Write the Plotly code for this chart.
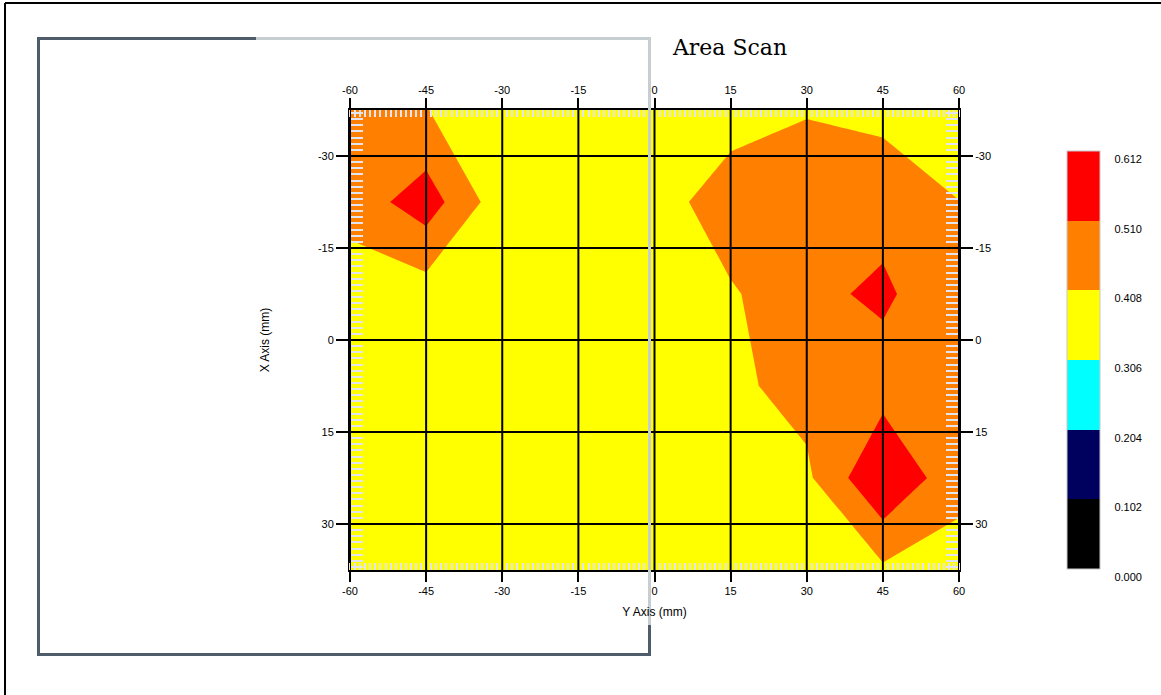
import plotly.graph_objects as go

# ---------------- data ----------------
y_axis_mm = [-60, -45, -30, -15, 0, 15, 30, 45, 60]          # horizontal axis ("Y Axis")
x_axis_mm = [-37.5, -22.5, -7.5, 7.5, 22.5, 37.5]            # vertical axis ("X Axis")
z_rows = [
    [0.470, 0.410, 0.360, 0.350, 0.350, 0.350, 0.398, 0.379, 0.360],
    [0.451, 0.563, 0.347, 0.350, 0.350, 0.478, 0.500, 0.476, 0.409],
    [0.347, 0.360, 0.340, 0.350, 0.350, 0.395, 0.487, 0.527, 0.436],
    [0.350, 0.350, 0.350, 0.350, 0.360, 0.389, 0.440, 0.467, 0.440],
    [0.350, 0.350, 0.350, 0.350, 0.350, 0.360, 0.390, 0.610, 0.438],
    [0.350, 0.350, 0.350, 0.350, 0.350, 0.350, 0.360, 0.390, 0.369],
]
level_start = 0.102
level_end = 0.510
level_size = 0.102
cbar_ticks = [0.000, 0.102, 0.204, 0.306, 0.408, 0.510, 0.612]
cbar_labels = ["0.000", "0.102", "0.204", "0.306", "0.408", "0.510", "0.612"]
band_colors = ["#000000", "#00005E", "#00FFFF", "#FFFF00", "#FF8000", "#FF0000"]
h_ticks = [-60, -45, -30, -15, 0, 15, 30, 45, 60]
h_labels = ["-60", "-45", "-30", "-15", "0", "15", "30", "45", "60"]
v_ticks = [-30, -15, 0, 15, 30]
v_labels = ["-30", "-15", "0", "15", "30"]
h_range = [-60, 60]
v_range = [37.5, -37.5]

# ---------------- layout geometry (pixels) ----------------
W, H = 1161, 695
PL, PR, PT, PB = 350, 959, 110, 570


def px(xp):
    return (xp - PL) / (PR - PL)


def py(yp):
    return (PB - yp) / (PB - PT)


n = len(band_colors)
# smooth scale for the contour bands (band centres land on the stops)
contour_scale = [[i / (n - 1), c] for i, c in enumerate(band_colors)]
# stepped scale for the legend bar
step_scale = []
for i, c in enumerate(band_colors):
    step_scale.append([i / n, c])
    step_scale.append([(i + 1) / n, c])

NBSP = "\u00a0"
cbar_text = [NBSP * 4 + t for t in cbar_labels]

fig = go.Figure()
# hidden heatmap that only provides the stepped colour bar
fig.add_trace(go.Heatmap(
    x=y_axis_mm, y=x_axis_mm, z=z_rows,
    zmin=cbar_ticks[0], zmax=cbar_ticks[-1], colorscale=step_scale,
    opacity=0, hoverinfo="skip",
    colorbar=dict(
        x=px(1067), xanchor="left", xpad=0,
        y=py(360), yanchor="middle", ypad=0,
        thickness=33, len=418, lenmode="pixels",
        outlinewidth=1, outlinecolor="#C8C8C8",
        tickmode="array", tickvals=cbar_ticks, ticktext=cbar_text,
        ticks="outside", ticklen=12, tickcolor="rgba(0,0,0,0)",
        ticklabelposition="outside bottom",
        tickfont=dict(family="Liberation Sans", size=11, color="#000"),
    ),
))
fig.add_trace(go.Contour(
    x=y_axis_mm, y=x_axis_mm, z=z_rows,
    autocontour=False,
    contours=dict(start=level_start, end=level_end, size=level_size,
                  coloring="fill", showlines=False),
    line=dict(width=0, smoothing=0),
    colorscale=contour_scale, showscale=False,
    hoverinfo="skip",
))
fig.add_trace(go.Scatter(x=[], y=[], xaxis="x2", yaxis="y2",
                         showlegend=False, hoverinfo="skip"))

tickfont = dict(family="Liberation Sans", size=11, color="#000")
minor_x = dict(ticks="inside", ticklen=7, tickwidth=2, tickcolor="#E4E4EE", dtick=1)
minor_y = dict(ticks="inside", ticklen=13, tickwidth=2, tickcolor="#E4E4EE", dtick=1)

common_x = dict(range=h_range, tickmode="array", tickvals=h_ticks, ticktext=h_labels,
                ticks="outside", ticklen=10, tickwidth=2, tickcolor="#000",
                showline=True, linecolor="#000", linewidth=2,
                showgrid=False, zeroline=False, tickfont=tickfont,
                minor=minor_x, automargin=False)
common_y = dict(range=v_range, tickmode="array", tickvals=v_ticks, ticktext=v_labels,
                ticks="outside", ticklen=12, tickwidth=2, tickcolor="#000",
                showline=True, linecolor="#000", linewidth=2,
                showgrid=False, zeroline=False, tickfont=tickfont,
                minor=minor_y, automargin=False)

fig.update_layout(
    width=W, height=H, autosize=False,
    margin=dict(l=PL, r=W - PR, t=PT, b=H - PB, pad=0),
    paper_bgcolor="white", plot_bgcolor="white",
    showlegend=False,
    title=dict(text="Area Scan", x=730 / W, xanchor="center", xref="container",
               y=1 - 47 / H, yanchor="middle", yref="container",
               font=dict(family="DejaVu Serif", size=22, color="#000")),
    xaxis=dict(**common_x,
               title=dict(text="Y Axis (mm)", standoff=11,
                          font=dict(family="Liberation Sans", size=12, color="#000"))),
    yaxis=dict(**common_y,
               title=dict(text="X Axis (mm)", standoff=46,
                          font=dict(family="Liberation Sans", size=12, color="#000"))),
    xaxis2=dict(**common_x, overlaying="x", side="top", anchor="y"),
    yaxis2=dict(**common_y, overlaying="y", side="right", anchor="x"),
)

shapes = []
# grid lines over the contour, from the tick arrays
for v in h_ticks:
    shapes.append(dict(type="line", xref="x", yref="paper", x0=v, x1=v, y0=0, y1=1,
                       line=dict(color="#000", width=2), layer="above"))
for v in v_ticks:
    shapes.append(dict(type="line", xref="paper", yref="y", x0=0, x1=1, y0=v, y1=v,
                       line=dict(color="#000", width=2), layer="above"))

DARK = "#4E5D69"
LIGHT = "#C6CED2"


def seg(x0, y0, x1, y1, color, width):
    shapes.append(dict(type="line", xref="paper", yref="paper",
                       x0=px(x0), y0=py(y0), x1=px(x1), y1=py(y1),
                       line=dict(color=color, width=width), layer="above"))


# decorative frame
seg(38.5, 37, 38.5, 656, DARK, 3)
seg(37, 38.5, 256, 38.5, DARK, 3)
seg(256, 38.5, 651, 38.5, LIGHT, 3)
seg(649.5, 37, 649.5, 625, LIGHT, 3)
seg(649.5, 625, 649.5, 656, DARK, 3)
seg(37, 654.5, 651, 654.5, DARK, 3)
# page border (left and top)
seg(5, 3, 5, H, "#000", 2)
seg(5, 3, W, 3, "#000", 2)

fig.update_layout(shapes=shapes)

fig.write_html("out.html", include_plotlyjs=True, full_html=True,
               config={"displayModeBar": False},
               post_script="document.body.style.margin='0px';document.body.style.overflow='hidden';")
